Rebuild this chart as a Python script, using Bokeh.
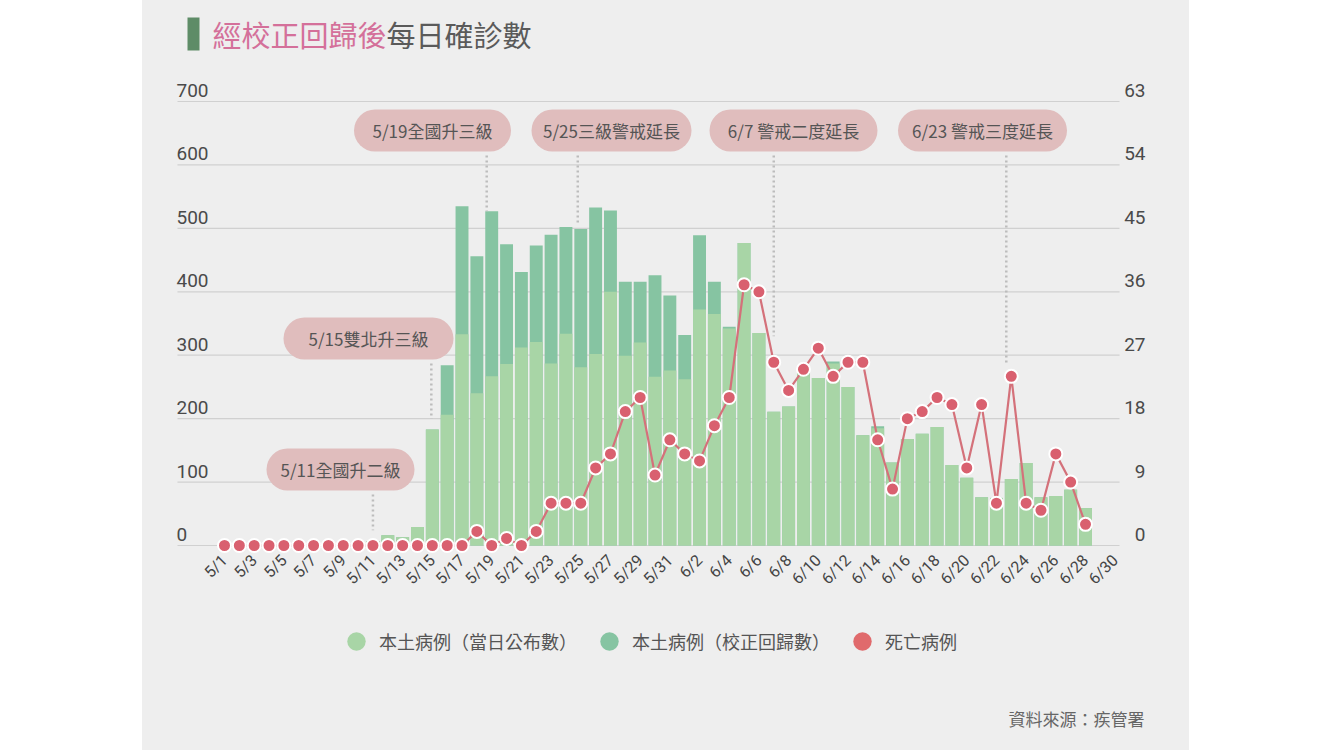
import math
import numpy as np
from bokeh.plotting import figure
from bokeh.models import (Range1d, FixedTicker, Label, BoxAnnotation, Legend,
                          LegendItem, Spacer)
from bokeh.layouts import row, column
from bokeh.core.properties import value
from bokeh.embed import file_html
from bokeh.resources import INLINE

# ---------------- data ----------------
DATES = [f"5/{d}" for d in range(1, 32)] + [f"6/{d}" for d in range(1, 31)]

# 本土病例（當日公布數）
ANNOUNCED = [0, 0, 0, 0, 0, 0, 0, 0, 0, 0,                      # 5/1-5/10
             7, 16, 13, 29, 183, 206, 333, 240, 267, 286,        # 5/11-5/20
             312, 321, 287, 334, 281, 302, 400, 299, 320, 266, 276,  # 5/21-5/31
             262, 372, 365, 342, 477, 335, 211, 219, 272, 264,   # 6/1-6/10
             287, 250, 174, 185, 131, 168, 176, 187, 127, 107,   # 6/11-6/20
             76, 75, 105, 130, 76, 78, 88, 59, None, None]       # 6/21-6/30

# 本土病例（校正回歸數）
CORRECTED = [0, 0, 0, 0, 0, 0, 0, 0, 0, 0,
             7, 16, 13, 29, 183, 284, 535, 456, 527, 475,
             431, 473, 490, 502, 499, 533, 528, 416, 416, 426, 394,
             332, 489, 416, 345, 477, 335, 211, 219, 272, 264,
             290, 250, 174, 188, 131, 168, 176, 187, 127, 107,
             76, 75, 105, 130, 76, 78, 88, 59, None, None]

# 死亡病例
DEATHS = [0, 0, 0, 0, 0, 0, 0, 0, 0, 0,
          0, 0, 0, 0, 0, 0, 0, 2, 0, 1,
          0, 2, 6, 6, 6, 11, 13, 19, 21, 10, 15,
          13, 12, 17, 21, 37, 36, 26, 22, 25, 28,
          24, 26, 26, 15, 8, 18, 19, 21, 20, 11,
          20, 6, 24, 6, 5, 13, 9, 3, None, None]

LEFT_TICKS = [0, 100, 200, 300, 400, 500, 600, 700]
RIGHT_TICKS = [0, 9, 18, 27, 36, 45, 54, 63]
X_TICKS = list(range(0, 61, 2))
X_TICK_LABELS = ["5/1", "5/3", "5/5", "5/7", "5/9", "5/11", "5/13", "5/15", "5/17",
                 "5/19", "5/21", "5/23", "5/25", "5/27", "5/29", "5/31", "6/2", "6/4",
                 "6/6", "6/8", "6/10", "6/12", "6/14", "6/16", "6/18", "6/20", "6/22",
                 "6/24", "6/26", "6/28", "6/30"]

ANN_DATES = ["5/11", "5/15", "5/19", "5/25", "6/7", "6/23"]
ANN_TEXT = ["5/11全國升二級", "5/15雙北升三級", "5/19全國升三級",
            "5/25三級警戒延長", "6/7 警戒二度延長", "6/23 警戒三度延長"]
ANN_LINE_END = [24, 200, 527, 505, 330, 288]

LEGEND_LABELS = ["本土病例（當日公布數）", "本土病例（校正回歸數）", "死亡病例"]

# ---------------- layout constants (page pixels) ----------------
FIG_X, FIG_Y = 143, 0
X0, DX = 225.0, 14.845          # page x of first date, px per day
Y0, UY = 545.0, 700.0 / 444.0   # page y of zero, units per px
UD = 63.0 / 444.0

def xd(px):
    return (px - X0) / DX

def yd(py):
    return (Y0 - py) * UY

def ydd(py):
    return (Y0 - py) * UD

BOX_CX = [341, 369, 433, 612, 794, 983]
BOX_CY = [469, 338, 130, 130, 130, 130]
BOX_W = [148, 170, 157, 160, 168, 169]
BOX_H = 42
LINE_DX = [0, -1, -5, -3, 0, -5]

CJK = "Noto Sans CJK TC"
LIGHT = "#a8d5a6"
DARK = "#86c4a2"
RED = "#d9606f"
BG = "#eeeeee"

W = 1047
H1 = 606
H2 = 750 - H1
FRAME_BOTTOM = 556

p = figure(width=W, height=H1,
           x_range=Range1d(xd(FIG_X), xd(FIG_X + W)),
           y_range=Range1d(yd(FRAME_BOTTOM), yd(FIG_Y)),
           output_backend="svg", toolbar_location=None,
           min_border_left=0, min_border_right=0, min_border_top=0,
           min_border_bottom=H1 - (FRAME_BOTTOM - FIG_Y),
           y_axis_location=None,
           background_fill_color=BG, border_fill_color=BG,
           outline_line_color=None)
p.grid.visible = False
p.extra_y_ranges = {"deaths": Range1d(ydd(FRAME_BOTTOM), ydd(FIG_Y))}

idx = np.arange(len(DATES))
ann = np.array(ANNOUNCED, dtype=float)
cor = np.array(CORRECTED, dtype=float)
dth = np.array(DEATHS, dtype=float)

# gridlines
p.segment(x0=[xd(178)] * len(LEFT_TICKS), x1=[xd(1120)] * len(LEFT_TICKS),
          y0=LEFT_TICKS, y1=LEFT_TICKS, line_color="#d0d0d0", line_width=1.2)

# y tick labels
p.text(x=[xd(177)] * len(LEFT_TICKS), y=LEFT_TICKS, text=[str(t) for t in LEFT_TICKS],
       text_align="left", text_baseline="middle", y_offset=-11,
       text_font=value("Roboto"), text_font_size="19px", text_color="#4a4a4a")
p.text(x=[xd(1146)] * len(RIGHT_TICKS), y=RIGHT_TICKS, text=[str(t) for t in RIGHT_TICKS],
       text_align="right", text_baseline="middle", y_offset=-11, y_range_name="deaths",
       text_font=value("Roboto"), text_font_size="19px", text_color="#4a4a4a")

# bars
p.vbar(x=idx, top=cor, bottom=0, width=0.87, fill_color=DARK, line_color=None)
p.vbar(x=idx, top=ann, bottom=0, width=0.87, fill_color=LIGHT, line_color=None)

# dotted event lines
pos = {d: i for i, d in enumerate(DATES)}
for d, cy, end, ddx in zip(ANN_DATES, BOX_CY, ANN_LINE_END, LINE_DX):
    xx = pos[d] + ddx / DX
    p.segment(x0=[xx], x1=[xx], y0=[yd(cy + BOX_H / 2 + 4)], y1=[end],
              line_color="#bcbcbc", line_width=2.5, line_dash="2 3")

# deaths
p.line(x=idx, y=dth, y_range_name="deaths", line_color="#d4717a", line_width=2.2)
p.scatter(x=idx, y=dth, y_range_name="deaths", size=13, fill_color=RED,
          line_color="white", line_width=2)

# x axis
ax = p.xaxis[0]
ax.ticker = FixedTicker(ticks=X_TICKS)
ax.major_label_overrides = {t: lab for t, lab in zip(X_TICKS, X_TICK_LABELS)}
ax.major_label_orientation = math.pi / 4
ax.axis_line_color = None
ax.major_tick_line_color = None
ax.minor_tick_line_color = None
ax.major_tick_out = 0
ax.major_tick_in = 0
ax.major_label_standoff = 1
ax.major_label_text_font = "Roboto"
ax.major_label_text_font_size = "16px"
ax.major_label_text_color = "#444444"

# event boxes
for cx, cy, w in zip(BOX_CX, BOX_CY, BOX_W):
    p.add_layout(BoxAnnotation(left=xd(cx - w / 2), right=xd(cx + w / 2),
                               top=yd(cy - BOX_H / 2), bottom=yd(cy + BOX_H / 2),
                               fill_color="#e0bdbd", fill_alpha=1.0, line_color=None,
                               border_radius=21))
for cx, cy, t in zip(BOX_CX, BOX_CY, ANN_TEXT):
    p.add_layout(Label(x=xd(cx), y=yd(cy), text=t, text_align="center",
                       text_baseline="middle", text_font=CJK, text_font_size="17px",
                       text_color="#555555"))

# title
p.add_layout(BoxAnnotation(left=xd(188), right=xd(200), top=yd(17), bottom=yd(50),
                           fill_color="#5e8c67", fill_alpha=1.0, line_color=None))
p.add_layout(Label(x=213 - FIG_X, y=FRAME_BOTTOM - 33, x_units="screen", y_units="screen",
                   text="經校正回歸後", text_baseline="middle", text_font=CJK,
                   text_font_size="29px", text_color="#d4709a"))
p.add_layout(Label(x=213 - FIG_X + 6 * 29, y=FRAME_BOTTOM - 33, x_units="screen",
                   y_units="screen", text="每日確診數", text_baseline="middle",
                   text_font=CJK, text_font_size="29px", text_color="#5a5a5a"))

# ---------------- bottom strip: legend + source ----------------
p2 = figure(width=W, height=H2, x_range=Range1d(FIG_X, FIG_X + W),
            y_range=Range1d(750, H1), output_backend="svg", toolbar_location=None,
            min_border_left=0, min_border_right=0, min_border_top=0, min_border_bottom=0,
            x_axis_location=None, y_axis_location=None,
            background_fill_color=BG, border_fill_color=BG, outline_line_color=None)
p2.grid.visible = False

p2.text(x=[1145], y=[718], text=["資料來源：疾管署"], text_align="right",
        text_baseline="middle", text_font=value(CJK), text_font_size="17px",
        text_color="#666666")

# legend proxies (placed outside the visible range)
r1 = p2.scatter(x=[-1000], y=[-1000], fill_color=LIGHT, line_color=None)
r2 = p2.scatter(x=[-1000], y=[-1000], fill_color=DARK, line_color=None)
r3 = p2.scatter(x=[-1000], y=[-1000], fill_color="#e06a6c", line_color=None)
legend = Legend(items=[LegendItem(label=LEGEND_LABELS[0], renderers=[r1]),
                       LegendItem(label=LEGEND_LABELS[1], renderers=[r2]),
                       LegendItem(label=LEGEND_LABELS[2], renderers=[r3])],
                orientation="horizontal", location=(334 - FIG_X, 750 - 664),
                glyph_width=46, glyph_height=46, label_standoff=0, spacing=9,
                padding=0, margin=0, border_line_color=None, background_fill_alpha=0,
                label_text_font=CJK, label_text_font_size="18px",
                label_text_color="#555555")
p2.add_layout(legend)

layout = row(Spacer(width=FIG_X - 1, height=10),
             column(p, p2, styles={"background-color": BG}))
open("out.html", "w").write(file_html(layout, INLINE))
